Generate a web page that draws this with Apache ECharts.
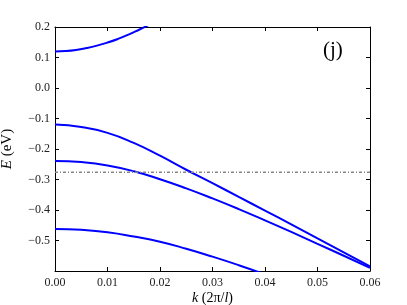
<!DOCTYPE html>
<html><head><meta charset="utf-8">
<script src="https://cdn.jsdelivr.net/npm/echarts@6/dist/echarts.min.js"></script>
<style>html,body{margin:0;padding:0;background:#fff}#c{width:407px;height:305px}</style>
</head><body><div id="c"></div>
<script>
const kValues = [0, 0.005, 0.01, 0.015, 0.02, 0.025, 0.03, 0.035, 0.04, 0.045, 0.05, 0.055, 0.06];
const kTop = [0, 0.002, 0.004, 0.006, 0.008, 0.010, 0.012, 0.014, 0.016, 0.018];
const bandTop = [0.120, 0.1212, 0.1248, 0.131, 0.139, 0.149, 0.161, 0.175, 0.191, 0.208];
const bandB = [-0.120, -0.128, -0.147, -0.180, -0.222, -0.268, -0.312, -0.357, -0.402, -0.447, -0.493, -0.539, -0.585];
const bandC = [-0.239, -0.243, -0.254, -0.273, -0.299, -0.329, -0.362, -0.397, -0.434, -0.472, -0.511, -0.550, -0.590];
const kD = [0, 0.005, 0.01, 0.015, 0.02, 0.025, 0.03, 0.035, 0.04];
const bandD = [-0.462, -0.465, -0.473, -0.487, -0.504, -0.527, -0.553, -0.581, -0.611];
const fermiLevel = -0.276;
const xTicks = ['0.00','0.01','0.02','0.03','0.04','0.05','0.06'];
const panelLabel = '(j)';

const serif = '"Liberation Serif", "DejaVu Serif", serif';
const zip = (xs, ys) => xs.map((x, i) => [x, ys[i]]);
const curve = (data) => ({type:'line', data, symbol:'none', smooth:true, clip:true,
  lineStyle:{color:'#0000ff', width:2}, silent:true});

const chart = echarts.init(document.getElementById('c'), null, {renderer:'canvas'});
const axisLine = {show:true, onZero:false, lineStyle:{color:'#000', width:1}};
const tick = {inside:true, length:4, lineStyle:{color:'#000'}};
chart.setOption({
  animation:false,
  grid:{left:55, right:37, top:27, bottom:34, containLabel:false, outerBoundsMode:'none'},
  xAxis:[{
    type:'value', min:0, max:0.06, interval:0.01,
    axisLine, axisTick:tick, splitLine:{show:false},
    axisLabel:{fontFamily:serif, fontSize:12, color:'#222', margin:6,
      formatter:(v)=>xTicks[Math.round(v/0.01)]},
    name:'{i|k} (2π/{i|l})', nameLocation:'middle', nameGap:20, nameMoveOverlap:false,
    nameTextStyle:{fontFamily:serif, fontSize:14, color:'#000', lineHeight:14,
      rich:{i:{fontFamily:serif, fontStyle:'italic', fontSize:14, lineHeight:14}}}
  },{
    type:'value', min:0, max:0.06, interval:0.01, position:'top',
    axisLine, axisTick:tick, axisLabel:{show:false}, splitLine:{show:false}
  }],
  yAxis:[{
    type:'value', min:-0.6, max:0.2, interval:0.1,
    axisLine, axisTick:tick, splitLine:{show:false},
    axisLabel:{fontFamily:serif, fontSize:12, color:'#222', margin:5,
      formatter:(v)=>{ if (v < -0.55) return ''; const s = Math.abs(v).toFixed(1); return (v < -1e-9 ? '\u2212' : '') + s; }},
    name:'{i|E} (eV)', nameLocation:'middle', nameGap:40, nameMoveOverlap:false,
    nameTextStyle:{fontFamily:serif, fontSize:15, color:'#000',
      rich:{i:{fontFamily:serif, fontStyle:'italic', fontSize:15}}}
  },{
    type:'value', min:-0.6, max:0.2, interval:0.1, position:'right',
    axisLine, axisTick:tick, axisLabel:{show:false}, splitLine:{show:false}
  }],
  series:[
    curve(zip(kTop, bandTop)),
    curve(zip(kValues, bandB)),
    curve(zip(kValues, bandC)),
    curve(zip(kD, bandD)),
    {type:'line', data:[[0, fermiLevel],[0.06, fermiLevel]], symbol:'none', silent:true,
      lineStyle:{color:'#888', width:1.5, type:[3,2,1,2]}}
  ],
  graphic:[{type:'text', left:323, top:40,
    style:{text:panelLabel, font:'21px ' + serif, fill:'#000'}}]
});
</script></body></html>
